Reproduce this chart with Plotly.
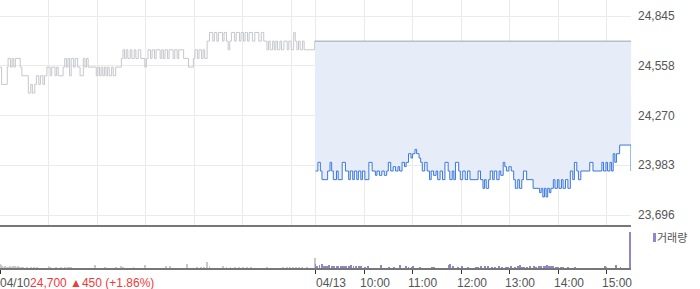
import plotly.graph_objects as go

# ---------------- data ----------------
# session minutes: 04/10 = 0..390 (09:00-15:30), 04/13 = 390..780
day1_t = [0, 2, 9, 10, 13, 15, 17, 19, 25, 27, 35, 38, 40, 43, 45, 48, 50, 53, 55, 58,
          62, 64, 68, 70, 72, 78, 80, 82, 84, 86, 88, 91, 93, 96, 99, 103, 105, 107, 109,
          119, 121, 123, 125, 127, 129, 131, 133, 135, 138, 140, 143, 150, 152, 154, 156,
          158, 161, 163, 166, 168, 171, 174, 179, 181, 183, 186, 188, 191, 193, 198, 200,
          202, 204, 207, 209, 214, 216, 219, 221, 227, 233, 239, 241, 244, 246, 249, 251,
          253, 256, 259, 263, 265, 268, 270, 275, 277, 280, 282, 284, 286, 290, 292, 296,
          298, 301, 303, 306, 308, 312, 315, 320, 323, 326, 330, 332, 334, 337, 339, 341,
          343, 346, 348, 351, 355, 357, 360, 363, 365, 367, 369, 371, 374, 376, 389, 390]
day1_px = [24550, 24450, 24550, 24600, 24550, 24600, 24550, 24600, 24550, 24500, 24400, 24450,
           24400, 24450, 24500, 24450, 24500, 24450, 24500, 24550, 24500, 24550, 24500, 24550,
           24500, 24550, 24600, 24550, 24600, 24500, 24600, 24550, 24600, 24550, 24500, 24600,
           24550, 24600, 24550, 24500, 24550, 24500, 24550, 24500, 24550, 24500, 24550, 24500,
           24550, 24500, 24550, 24600, 24650, 24600, 24650, 24600, 24650, 24600, 24650, 24600,
           24650, 24600, 24550, 24600, 24650, 24600, 24650, 24600, 24650, 24600, 24650, 24600,
           24650, 24600, 24650, 24600, 24650, 24600, 24650, 24600, 24550, 24600, 24650, 24600,
           24650, 24600, 24650, 24600, 24700, 24750, 24700, 24750, 24700, 24750, 24700, 24750,
           24700, 24650, 24700, 24750, 24700, 24750, 24700, 24750, 24700, 24750, 24700, 24750,
           24700, 24750, 24700, 24750, 24700, 24650, 24700, 24650, 24700, 24650, 24700, 24650,
           24700, 24650, 24700, 24650, 24700, 24650, 24750, 24700, 24650, 24700, 24650, 24700,
           24650, 24700, 24700]

day2_t = [390, 393, 396, 398, 405, 408, 410, 412, 416, 418, 423, 427, 431, 433, 436, 438, 441,
          443, 446, 448, 451, 456, 460, 464, 466, 469, 472, 475, 478, 480, 483, 486, 489, 492,
          494, 497, 500, 502, 505, 508, 510, 513, 515, 518, 520, 522, 525, 528, 531, 533, 536,
          539, 541, 544, 547, 550, 554, 556, 559, 561, 563, 567, 569, 572, 575, 578, 581, 591,
          594, 597, 599, 601, 604, 606, 609, 611, 614, 617, 619, 622, 624, 626, 629, 632, 635,
          637, 640, 642, 645, 647, 651, 659, 667, 669, 671, 673, 675, 677, 679, 681, 684, 686,
          689, 691, 694, 696, 699, 702, 705, 708, 710, 713, 715, 718, 729, 733, 744, 746, 749,
          751, 754, 756, 758, 760, 762, 766, 779, 780]
day2_px = [23950, 24000, 23950, 23900, 23950, 24000, 23950, 23900, 23950, 23900, 24000, 23950,
           23900, 23950, 23900, 23950, 23900, 23950, 23900, 23950, 23900, 24000, 23950, 23925,
           23950, 23925, 23950, 23925, 23950, 24000, 23950, 23975, 23950, 23975, 23950, 24000,
           23975, 24000, 24050, 24025, 24050, 24075, 24050, 24025, 24000, 23950, 24000, 23950,
           23900, 23950, 23925, 23950, 23900, 23950, 23900, 24000, 23950, 23900, 23950, 23900,
           24000, 23950, 23900, 23950, 23900, 23950, 23900, 23950, 23900, 23850, 23900, 23850,
           23900, 23950, 23900, 23950, 23900, 23950, 23925, 24000, 23975, 23950, 23975, 23950,
           23900, 23850, 23900, 23850, 23900, 23950, 23900, 23850, 23825, 23850, 23800, 23850,
           23800, 23850, 23825, 23850, 23900, 23850, 23900, 23850, 23900, 23850, 23900, 23850,
           23950, 23900, 24000, 23950, 23900, 23950, 24000, 23950, 24000, 23950, 24000, 23950,
           24000, 23950, 24050, 24000, 24050, 24100, 24100, 23950]

prev_close = 24700

# volume (thousand shares)
vol1_t = [0, 1, 2, 4, 6, 8, 10, 12, 14, 16, 18, 20, 22, 24, 26, 28, 33, 38, 42, 46, 60, 62,
          69, 75, 80, 84, 86, 88, 117, 130, 143, 150, 152, 165, 179, 205, 210, 231, 243, 248,
          252, 256, 259, 276, 280, 285, 290, 295, 300, 305, 310, 330, 350, 355, 358, 362, 366,
          370, 373, 379, 389]
vol1_v = [4, 3, 2, 1, 2, 1, 1, 2, 1, 2, 2, 1, 2, 1, 1, 1, 1, 1, 1, 1, 2, 1, 1, 1, 1, 1, 1, 1,
          3, 1, 1, 2, 1, 1, 3, 2, 2, 4, 1, 1, 1, 6, 2, 2, 1, 1, 1, 1, 1, 1, 1, 1, 1, 1, 1, 1, 1,
          1, 1, 1, 10]
vol2_t = [390, 392, 395, 398, 400, 403, 405, 407, 410, 413, 416, 418, 421, 424, 426, 428, 431,
          434, 437, 440, 444, 446, 451, 455, 471, 481, 487, 494, 502, 505, 509, 511, 519, 534,
          537, 555, 556, 560, 566, 571, 579, 588, 591, 595, 599, 603, 608, 612, 617, 620, 625,
          628, 632, 637, 640, 643, 645, 648, 651, 655, 660, 663, 666, 669, 672, 674, 676, 679,
          681, 684, 687, 690, 693, 696, 702, 711, 748, 749, 762, 767, 779]
vol2_v = [4, 2, 3, 4, 2, 2, 2, 3, 2, 2, 2, 2, 2, 2, 2, 2, 2, 3, 2, 2, 2, 2, 1, 2, 3, 1, 1, 3,
          2, 1, 1, 2, 1, 1, 1, 3, 4, 2, 1, 2, 1, 1, 1, 2, 2, 2, 1, 1, 2, 1, 1, 1, 2, 1, 2, 3, 1,
          1, 1, 2, 2, 1, 2, 2, 2, 2, 3, 2, 2, 2, 1, 1, 1, 1, 1, 1, 2, 1, 3, 1, 36]

y_tickvals = [23696, 23983.25, 24270.5, 24557.75, 24845]
y_ticktext = ["23,696", "23,983", "24,270", "24,558", "24,845"]
grid_t = [0, 60, 120, 180, 240, 300, 360, 390, 450, 510, 570, 630, 690, 750]
x_tick_t = [0, 390, 450, 510, 570, 630, 690, 750]
x_tick_text = ["04/10", "04/13", "10:00", "11:00", "12:00", "13:00", "14:00", "15:00"]
summary_text = "24,700 ▲450 (+1.86%)"
legend_text = "거래량"

# ---------------- figure ----------------
FONT = "Liberation Sans, Arial, Noto Sans CJK KR, sans-serif"
fig = go.Figure()

fig.add_trace(go.Scatter(x=day1_t, y=day1_px, mode="lines",
                         line=dict(color="#c6c7cc", width=1, shape="hv"),
                         xaxis="x", yaxis="y", showlegend=False))
fig.add_trace(go.Scatter(x=[390, 780], y=[prev_close, prev_close], mode="lines",
                         line=dict(color="#555555", width=1, dash="1px,1px"),
                         xaxis="x", yaxis="y", showlegend=False))
fig.add_trace(go.Scatter(x=day2_t, y=day2_px, mode="lines", fill="tonexty",
                         fillcolor="#e6edf9",
                         line=dict(color="#3a78dc", width=1, shape="hv"),
                         xaxis="x", yaxis="y", showlegend=False))

fig.add_trace(go.Bar(x=vol1_t, y=vol1_v, width=1.1, marker=dict(color="#c8c8c8", line_width=0),
                     xaxis="x2", yaxis="y2", showlegend=False))
fig.add_trace(go.Bar(x=vol2_t, y=vol2_v, width=1.1, marker=dict(color="#9385c8", line_width=0),
                     xaxis="x2", yaxis="y2", showlegend=False))

PLOT_W, PLOT_H = 631, 268
def py(p):
    return (PLOT_H - p) / PLOT_H
def px(p):
    return p / PLOT_W

annotations = []
for t, lab in zip(x_tick_t, x_tick_text):
    is_date = "/" in lab
    text = lab
    if lab == "04/10":
        text = lab + "<span style='color:#ee3b3b'>" + summary_text + "</span>"
    annotations.append(dict(x=t, xref="x2", y=py(283), yref="paper", text=text,
                            showarrow=False, xanchor="left", yanchor="middle",
                            xshift=0 if is_date else -4.5, borderpad=0, borderwidth=0,
                            font=dict(family=FONT, size=12, color="#555555")))
annotations.append(dict(x=px(657), xref="paper", y=py(237.5), yref="paper", text=legend_text,
                        showarrow=False, xanchor="left", yanchor="middle", borderpad=0,
                        borderwidth=0, font=dict(family=FONT, size=11, color="#555555")))

fig.update_layout(
    width=700, height=289,
    margin=dict(l=0, r=700 - PLOT_W, t=0, b=289 - PLOT_H),
    paper_bgcolor="white", plot_bgcolor="white",
    font=dict(family=FONT, size=12, color="#555555"),
    bargap=0,
    xaxis=dict(domain=[0, 1], range=[0, 780], anchor="y", tickvals=grid_t,
               showticklabels=False, showgrid=True, gridcolor="#ebebeb", gridwidth=1,
               showline=True, linecolor="#777777", linewidth=1.5, zeroline=False,
               ticks="", fixedrange=True),
    yaxis=dict(domain=[py(225), 1], range=[23638.3, 24937.4], side="right", anchor="x",
               tickvals=y_tickvals, ticktext=y_ticktext, showgrid=True,
               gridcolor="#ebebeb", gridwidth=1, zeroline=False, ticks="",
               ticklabelstandoff=6, tickfont=dict(size=12, color="#555555")),
    xaxis2=dict(domain=[0, 1], range=[0, 780], anchor="y2", tickvals=x_tick_t,
                showticklabels=False, showgrid=False, showline=True, linecolor="#777777",
                linewidth=1.5, ticks="outside", ticklen=4, tickcolor="#333333",
                tickwidth=1, zeroline=False),
    yaxis2=dict(domain=[0, py(226)], range=[0, 42], anchor="x2", showgrid=False,
                showticklabels=False, zeroline=False, showline=False),
    annotations=annotations,
    shapes=[dict(type="rect", xref="paper", yref="paper", x0=px(653), x1=px(656),
                 y0=py(242), y1=py(233), fillcolor="#9385c8", line_width=0)],
)

fig.write_html("out.html")
